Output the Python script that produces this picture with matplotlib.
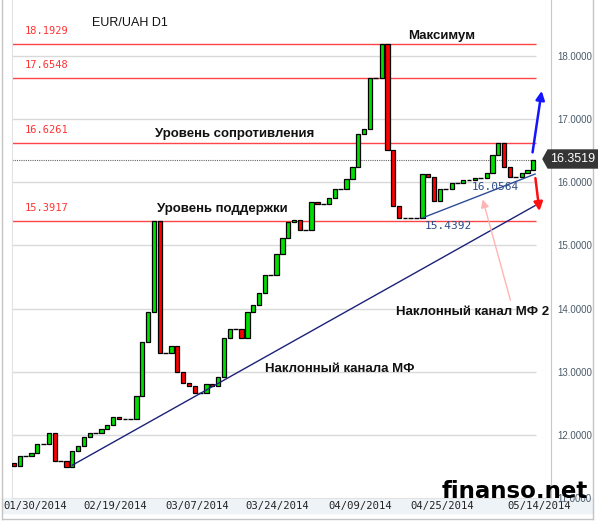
"""
EUR/UAH daily candles, Jan-May 2014, with support/resistance levels
and the two sloping channel lines.
"""

import matplotlib
matplotlib.use('Agg')
import matplotlib.pyplot as plt
from matplotlib.patches import Polygon, Rectangle
from matplotlib.lines import Line2D


FIRST_OPEN = 11.56
CLOSES = [11.51, 11.66, 11.66, 11.71, 11.85, 11.85, 12.03, 11.59, 11.59,
          11.49, 11.75, 11.82, 11.97, 12.03, 12.03, 12.10, 12.15, 12.29,
          12.25, 12.25, 12.25, 12.61, 13.47, 13.94, 15.3917, 13.30, 13.30,
          13.41, 12.99, 12.82, 12.78, 12.66, 12.66, 12.80, 12.78, 12.92,
          13.53, 13.67, 13.67, 13.53, 13.95, 14.05, 14.24, 14.53, 14.53,
          14.86, 15.12, 15.37, 15.41, 15.25, 15.25, 15.68, 15.66, 15.66,
          15.75, 15.89, 15.89, 16.05, 16.24, 16.76, 16.84, 17.6548, 17.6548,
          18.1929, 16.51, 15.63, 15.4392, 15.4392, 15.4392, 15.4392, 16.13,
          16.09, 15.70, 15.89, 15.89, 15.99, 15.99, 16.03, 16.03, 16.06,
          16.06, 16.15, 16.43, 16.6261, 16.24, 16.08, 16.08, 16.14, 16.19,
          16.3519]

DATE_TICKS = [3.6, 17.3, 31.4, 45.2, 59.4, 73.4, 90.1]
DATE_LABELS = ['01/30/2014', '02/19/2014', '03/07/2014', '03/24/2014',
               '04/09/2014', '04/25/2014', '05/14/2014']

PRICE_TICKS = [11, 12, 13, 14, 15, 16, 17, 18]
LEVELS = [18.1929, 17.6548, 16.6261, 15.3917]
LAST_PRICE = 16.3519

# sloping channels: (start slot, start price, end slot, end price)
CHANNEL_MF = (10.0, 11.52, 89.3, 15.63)
CHANNEL_MF2 = (70.1, 15.4392, 89.3, 16.13)

W, H = 598, 523
GRID_END = 89.5


def fx(px):
    return px / W


def fy(py):
    return 1 - py / H


def draw_candles(ax):
    """
    Boxes from previous close to close, flat days as short dashes
    """
    opens = [FIRST_OPEN] + CLOSES[:-1]
    for i, (o, c) in enumerate(zip(opens, CLOSES)):
        if abs(c - o) < 1e-9:
            ax.hlines(c, i - 0.4, i + 0.4, color='black', lw=1, zorder=4)
            continue
        color = '#00e000' if c > o else '#ff0000'
        ax.bar(i, c - o, bottom=o, width=0.72, color=color,
               edgecolor='black', linewidth=0.9, zorder=4)


def draw_levels(ax):
    x0 = ax.get_xlim()[0]
    ax.hlines(PRICE_TICKS[1:], x0, GRID_END, color='#d9d9d9', lw=1, zorder=1)
    ax.hlines(LEVELS, x0, GRID_END, color='#ff4545', lw=1, zorder=2)
    for lv in LEVELS:
        ax.annotate(f'{lv:.4f}', (1.9, lv), xytext=(0, 9),
                    textcoords='offset points', va='center', ha='left',
                    color='#ff3333', fontsize=7.5, family='DejaVu Sans Mono')
    ax.hlines(LAST_PRICE, x0, GRID_END, color='#666666', lw=0.8,
              linestyles=(0, (1, 1)), zorder=2)


def draw_channels(ax):
    x1, y1, x2, y2 = CHANNEL_MF
    ax.plot([x1, x2], [y1, y2], color='#1c2278', lw=1, zorder=5)
    x1, y1, x2, y2 = CHANNEL_MF2
    ax.plot([x1, x2], [y1, y2], color='#2f4c96', lw=1, zorder=5)
    ax.annotate('', xy=(90.5, 17.49), xytext=(88.8, 16.43),
                arrowprops=dict(arrowstyle='-|>', color='#1414ff', lw=1.8,
                                mutation_scale=13), zorder=6)
    ax.annotate('', xy=(90.1, 15.50), xytext=(89.3, 16.11),
                arrowprops=dict(arrowstyle='-|>', color='#ff1010', lw=1.8,
                                mutation_scale=13), zorder=6)
    ax.annotate('', xy=(80.2, 15.77), xytext=(85.2, 14.09),
                arrowprops=dict(arrowstyle='-|>', color='#ffb4b4', lw=1,
                                mutation_scale=12), zorder=6)


def draw_texts(ax):
    bold = dict(fontsize=9.5, weight='bold', family='Liberation Sans',
                color='#111111', zorder=7)
    ax.text(13.4, 18.52, 'EUR/UAH D1', fontsize=9, family='Liberation Sans',
            va='center', color='#111111')
    ax.text(73.3, 18.32, 'Максимум', ha='center', va='center', **bold)
    ax.text(24.2, 16.77, 'Уровень сопротивления', va='center', **bold)
    ax.text(24.5, 15.58, 'Уровень поддержки', va='center', **bold)
    ax.text(65.4, 13.94, 'Наклонный канал МФ 2', va='center', **bold)
    ax.text(43.0, 13.04, 'Наклонный канала МФ', va='center', **bold)
    note = dict(fontsize=8, family='DejaVu Sans Mono', color='#2b4a86',
                va='center', zorder=7)
    ax.text(70.4, 15.30, '15.4392', **note)
    ax.text(78.4, 15.92, '16.0564', **note)


def style_axes(ax):
    ax.set_xlim(-0.343, 92.03)
    ax.set_ylim(11.003, 18.886)
    ax.set_xticks(DATE_TICKS)
    ax.set_xticklabels(DATE_LABELS, family='DejaVu Sans Mono', fontsize=7.6,
                       color='#222222')
    ax.yaxis.tick_right()
    ax.set_yticks(PRICE_TICKS)
    ax.set_yticklabels([f'{v:.4f}' for v in PRICE_TICKS],
                       family='Liberation Sans', fontsize=7, color='#4a5a68')
    ax.tick_params(axis='both', length=0)
    ax.tick_params(axis='y', pad=4.5)
    ax.tick_params(axis='x', pad=2.5)
    ax.spines['top'].set_visible(False)
    ax.spines['left'].set_color('#e2e2e2')
    ax.spines['bottom'].set_color('#e2e2e2')
    ax.spines['right'].set_color('#c8c8c8')


def draw_frame(fig):
    fig.patches.append(Rectangle((fx(2), fy(513)), fx(591), 15 / H,
                                 transform=fig.transFigure,
                                 color='#eef3f8', zorder=-1))
    for xs, ys in [([2, 2], [0, 519]), ([593, 593], [0, 519]),
                   ([2, 593], [519, 519])]:
        fig.lines.append(Line2D([fx(x) for x in xs], [fy(y) for y in ys],
                                transform=fig.transFigure,
                                color='#c4c4c4', lw=1))
    box = [(543, 159), (548, 150), (598, 150), (598, 168), (548, 168)]
    fig.patches.append(Polygon([(fx(x), fy(y)) for x, y in box],
                               closed=True, transform=fig.transFigure,
                               color='#353535', zorder=5))
    fig.text(fx(573), fy(159), f'{LAST_PRICE:.4f}', ha='center',
             va='center', color='white', fontsize=9,
             family='Liberation Sans', zorder=6)
    fig.text(fx(515), fy(492), 'finanso.net', ha='center', va='center',
             fontsize=16.5, weight='bold', family='DejaVu Sans',
             color='black', zorder=6)


def main():
    fig = plt.figure(figsize=(W / 100, H / 100), dpi=100)
    ax = fig.add_axes([fx(12), fy(498), fx(551 - 12), 498 / H])
    style_axes(ax)
    draw_levels(ax)
    draw_candles(ax)
    draw_channels(ax)
    draw_texts(ax)
    draw_frame(fig)
    fig.savefig('out.png', dpi=100)


if __name__ == '__main__':
    main()
